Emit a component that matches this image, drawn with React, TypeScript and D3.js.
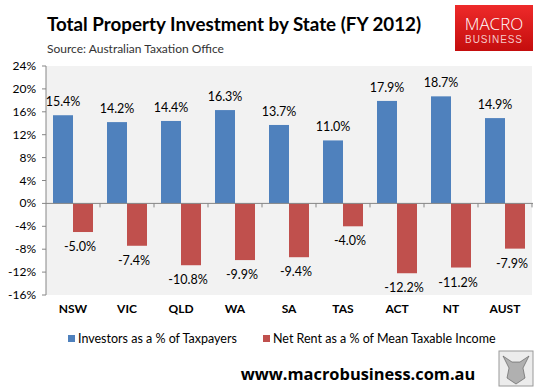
import React from 'react';
import * as d3 from 'd3';

const states = ['NSW', 'VIC', 'QLD', 'WA', 'SA', 'TAS', 'ACT', 'NT', 'AUST'];
const investors = [15.4, 14.2, 14.4, 16.3, 13.7, 11.0, 17.9, 18.7, 14.9];
const netRent = [-5.0, -7.4, -10.8, -9.9, -9.4, -4.0, -12.2, -11.2, -7.9];
const yTicks = [-16, -12, -8, -4, 0, 4, 8, 12, 16, 20, 24];
const seriesNames = ['Investors as a % of Taxpayers', 'Net Rent as a % of Mean Taxable Income'];
const colors = ['#4f81bd', '#c0504d'];

const W = 540;
const H = 391;
const plot = { left: 46, right: 532, top: 66, bottom: 295 };
const font = 'Lato, "Open Sans", sans-serif';

export default function App() {
  const x0 = d3.scaleBand<string>().domain(states).range([plot.left, plot.right]);
  const x1 = d3.scaleBand<number>().domain([0, 1]).range([0, x0.bandwidth()]).paddingOuter(0.35);
  const y = d3.scaleLinear().domain([-16, 24]).range([plot.bottom, plot.top]);
  const fmt = (v: number) => `${v.toFixed(1)}%`;

  return (
    <svg width={W} height={H} style={{ position: 'absolute', left: 0, top: 0, background: '#fff' }}>
      <defs>
        <linearGradient id="logo" x1="0" y1="0" x2="0" y2="1">
          <stop offset="0" stopColor="#ee2a2a" />
          <stop offset="1" stopColor="#c40d0d" />
        </linearGradient>
      </defs>

      {/* title */}
      <text x={47} y={31} fontFamily={font} fontWeight="bold" fontSize={18.8} fill="#000">
        Total Property Investment by State (FY 2012)
      </text>
      <text x={47} y={53} fontFamily={font} fontSize={12} fill="#333">
        Source: Australian Taxation Office
      </text>

      {/* logo */}
      <rect x={455} y={5} width={78} height={46} fill="url(#logo)" />
      <text x={494} y={30} textAnchor="middle" fontFamily='"Open Sans", sans-serif' fontWeight={300} fontSize={17} fill="#fff">
        MACRO
      </text>
      <text x={494} y={43} textAnchor="middle" fontFamily='"Liberation Sans", Arial, sans-serif' fontSize={10} letterSpacing={0.9} fill="#f6c8c8">
        BUSINESS
      </text>

      {/* plot background */}
      <rect x={plot.left} y={plot.top} width={plot.right - plot.left} height={plot.bottom - plot.top} fill="#f2f2f2" />

      {/* y axis */}
      <line x1={plot.left} x2={plot.left} y1={plot.top} y2={plot.bottom} stroke="#868686" />
      {yTicks.map(t => (
        <g key={t}>
          <line x1={plot.left - 4} x2={plot.left} y1={y(t)} y2={y(t)} stroke="#868686" />
          <text x={plot.left - 10} y={y(t) + 4} textAnchor="end" fontFamily={font} fontSize={12} fill="#000">
            {t}%
          </text>
        </g>
      ))}

      {/* bars */}
      {states.map((s, i) => (
        <g key={s} transform={`translate(${x0(s)},0)`}>
          {[investors[i], netRent[i]].map((v, j) => (
            <rect
              key={j}
              x={x1(j)}
              width={x1.bandwidth()}
              y={y(Math.max(0, v))}
              height={Math.abs(y(v) - y(0))}
              fill={colors[j]}
            />
          ))}
          <text x={(x1(0) ?? 0) + x1.bandwidth() / 2} y={y(investors[i]) - 9} textAnchor="middle" fontFamily={font} fontSize={12.5} fill="#000">
            {fmt(investors[i])}
          </text>
          <text x={(x1(1) ?? 0) + x1.bandwidth() / 2 - 3} y={y(netRent[i]) + 19} textAnchor="middle" fontFamily={font} fontSize={12.5} fill="#000">
            {fmt(netRent[i])}
          </text>
        </g>
      ))}

      {/* zero axis */}
      <line x1={plot.left} x2={plot.right + 1} y1={y(0)} y2={y(0)} stroke="#868686" />
      {states.map(s => (
        <line key={s} x1={(x0(s) ?? 0) + x0.bandwidth()} x2={(x0(s) ?? 0) + x0.bandwidth()} y1={y(0)} y2={y(0) + 4} stroke="#868686" />
      ))}

      {/* category labels */}
      {states.map(s => (
        <text key={s} x={(x0(s) ?? 0) + x0.bandwidth() / 2} y={313} textAnchor="middle" fontFamily={font} fontWeight="bold" fontSize={12} fill="#000">
          {s}
        </text>
      ))}

      {/* legend */}
      <rect x={68} y={335} width={7} height={7} fill={colors[0]} />
      <text x={78} y={343} fontFamily={font} fontSize={12.5} fill="#000">{seriesNames[0]}</text>
      <rect x={263} y={335} width={7} height={7} fill={colors[1]} />
      <text x={273} y={343} fontFamily={font} fontSize={12.5} fill="#000">{seriesNames[1]}</text>

      {/* footer */}
      <text x={358} y={380} textAnchor="middle" fontFamily='"Open Sans", sans-serif' fontWeight="bold" fontSize={16.4} fill="#000">
        www.macrobusiness.com.au
      </text>
      <rect x={499} y={351} width={34} height={35} fill="#ececec" stroke="#9a9a9a" />
      <path d="M503,356 L509,368 L507,378 L516,384 L525,378 L523,368 L529,356 L520,362 L512,362 Z" fill="#b0b0b0" stroke="#555" strokeWidth={0.6} />
    </svg>
  );
}
